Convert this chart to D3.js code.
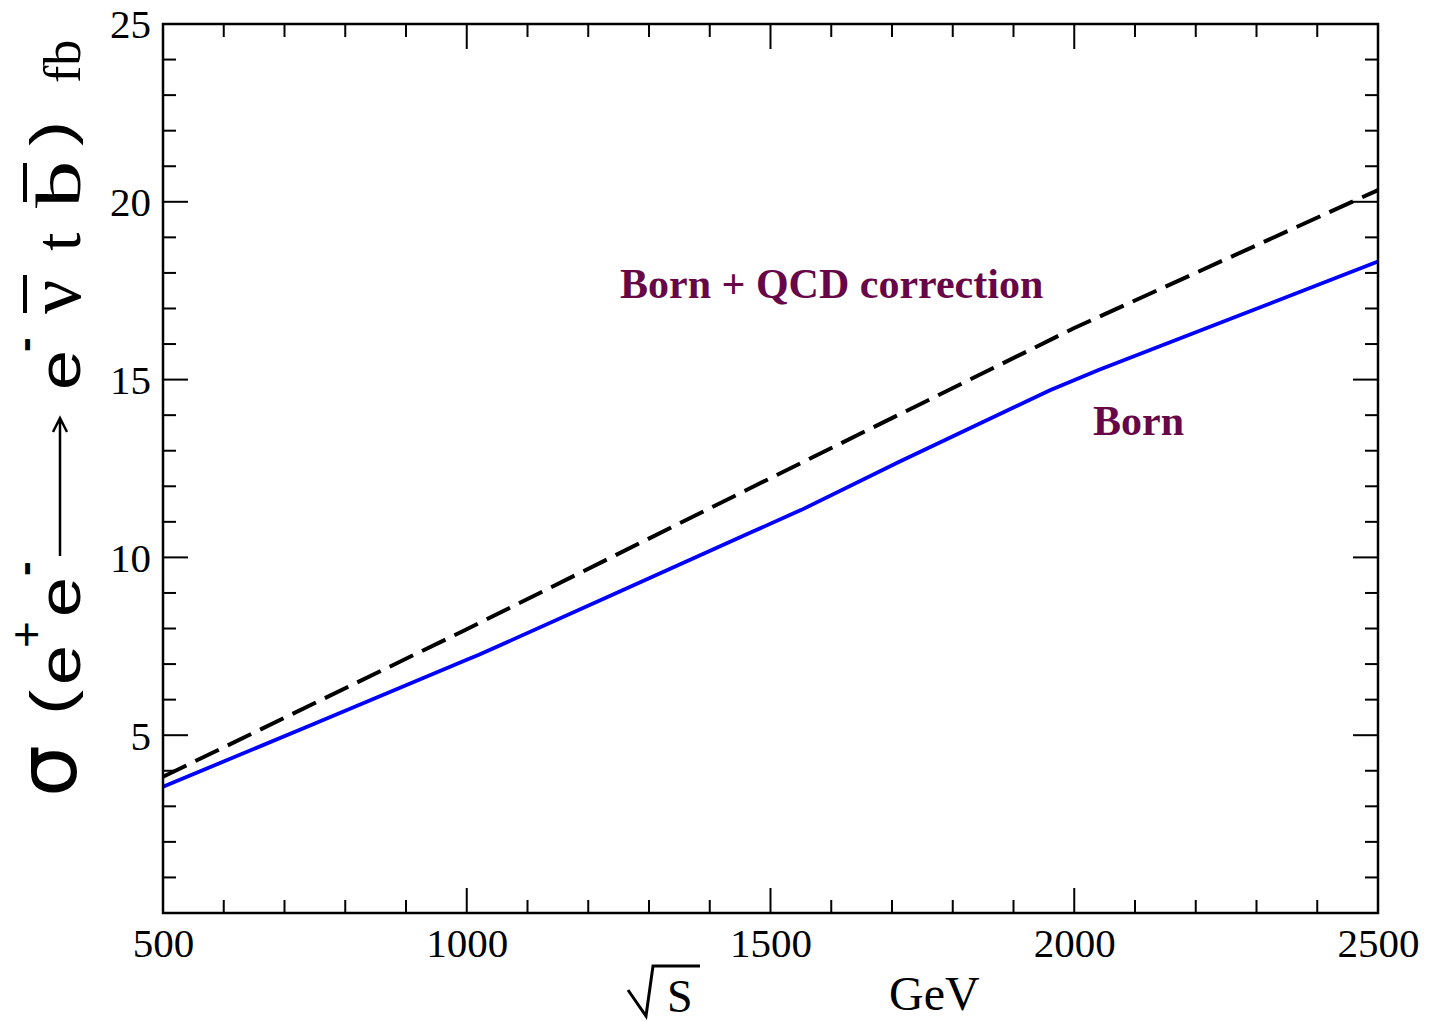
<!DOCTYPE html>
<html><head><meta charset="utf-8">
<script src="https://cdn.jsdelivr.net/npm/d3@7"></script>
<style>body{margin:0;background:#fff}</style>
</head><body>
<svg id="c" width="1429" height="1022"></svg>
<script>
// ---- data ----
const bornSqrtS = [500, 750, 1000, 1020, 1250, 1470, 1550, 1712, 1960, 2040, 2250, 2500];
const bornSigma = [3.55, 5.33, 7.12, 7.26, 9.03, 10.72, 11.33, 12.69, 14.7, 15.27, 16.66, 18.32];
const qcdSqrtS = [500, 1000, 1500, 2000, 2500];
const qcdSigma = [3.83, 7.98, 12.23, 16.45, 20.33];
const xTickValues = [500, 1000, 1500, 2000, 2500];
const yTickValues = [5, 10, 15, 20, 25];
const labelQCD = "Born + QCD correction";
const labelBorn = "Born";

const svg = d3.select("#c");
const L = 163, R = 1378, T = 24, B = 913;
const x = d3.scaleLinear().domain([500, 2500]).range([L, R]);
const y = d3.scaleLinear().domain([0, 25]).range([B, T]);
const serif = "'Liberation Serif','Times New Roman',serif";
const sans = "'Liberation Sans',Arial,sans-serif";

// minor/major ticks
const xMinor = d3.range(500, 2501, 100);
const yMinor = d3.range(1, 25, 1);
function tickAxes() {
  const g = svg.append("g").attr("stroke", "#000").attr("stroke-width", 2);
  xMinor.forEach(v => {
    const len = (v % 500 === 0) ? 25 : 13;
    g.append("line").attr("x1", x(v)).attr("x2", x(v)).attr("y1", B).attr("y2", B - len);
    g.append("line").attr("x1", x(v)).attr("x2", x(v)).attr("y1", T).attr("y2", T + len);
  });
  yMinor.forEach(v => {
    const len = (v % 5 === 0) ? 25 : 13;
    g.append("line").attr("x1", L).attr("x2", L + len).attr("y1", y(v)).attr("y2", y(v));
    g.append("line").attr("x1", R).attr("x2", R - len).attr("y1", y(v)).attr("y2", y(v));
  });
}
tickAxes();

// axes via d3 (labels only)
const xAxis = d3.axisBottom(x).tickValues(xTickValues).tickSize(0).tickPadding(0).tickFormat(d3.format("d"));
const gx = svg.append("g").attr("transform", `translate(0,${B})`).call(xAxis);
gx.select(".domain").remove();
gx.selectAll("text").attr("font-family", serif).attr("font-size", 41).attr("fill", "#000")
  .attr("dy", null).attr("y", 44);

const yAxis = d3.axisLeft(y).tickValues(yTickValues).tickSize(0).tickPadding(12).tickFormat(d3.format("d"));
const gy = svg.append("g").attr("transform", `translate(${L},0)`).call(yAxis);
gy.select(".domain").remove();
gy.selectAll("text").attr("font-family", serif).attr("font-size", 41).attr("fill", "#000")
  .attr("dy", "0.34em");

// curves
const line = d3.line().x(d => x(d[0])).y(d => y(d[1]));
svg.append("path").datum(qcdSqrtS.map((v, i) => [v, qcdSigma[i]]))
  .attr("d", line).attr("fill", "none").attr("stroke", "#000").attr("stroke-width", 4)
  .attr("stroke-dasharray", "26,10");
svg.append("path").datum(bornSqrtS.map((v, i) => [v, bornSigma[i]]))
  .attr("d", line).attr("fill", "none").attr("stroke", "#0000ff").attr("stroke-width", 3.8);

// frame
svg.append("rect").attr("x", L).attr("y", T).attr("width", R - L).attr("height", B - T)
  .attr("fill", "none").attr("stroke", "#000").attr("stroke-width", 2.5);

// curve labels
const maroon = "#670748";
svg.append("text").attr("x", 620).attr("y", 298).attr("font-family", serif).attr("font-weight", "bold")
  .attr("font-size", 42).attr("fill", maroon).text(labelQCD);
svg.append("text").attr("x", 1093).attr("y", 435).attr("font-family", serif).attr("font-weight", "bold")
  .attr("font-size", 42).attr("fill", maroon).text(labelBorn);

// x axis title: sqrt(S)   GeV
svg.append("path").attr("d", "M628,990 L646,1016 L653,966 L700,966")
  .attr("fill", "none").attr("stroke", "#000").attr("stroke-width", 3);
svg.append("text").attr("x", 667).attr("y", 1012).attr("font-family", serif).attr("font-size", 46).text("S");
svg.append("text").attr("x", 889).attr("y", 1010).attr("font-family", serif).attr("font-size", 48).text("GeV");

// y axis title, rotated pieces
function rt(sx, sy, str, fam, size, k, w) {
  return svg.append("text").attr("transform", `translate(${sx},${sy}) rotate(-90) scale(${k || 1},1)`)
    .attr("font-family", fam).attr("font-size", size).attr("font-weight", w || "normal")
    .attr("fill", "#000").text(str);
}
rt(76, 797, "σ", "'DejaVu Sans',sans-serif", 82);
rt(71, 715, "(", sans, 58, 1.3);
rt(80, 685, "e", sans, 60, 1.2);
rt(42, 648, "+", sans, 46);
rt(80, 617, "e", sans, 60, 1.2);
rt(38, 576, "-", sans, 40, 1.1, "bold");
// arrow
svg.append("path").attr("d", "M60,556 L60,418 M53,432 L60,418 L67,432")
  .attr("fill", "none").attr("stroke", "#000").attr("stroke-width", 2.5);
rt(80, 390, "e", sans, 60, 1.2);
rt(38, 352, "-", sans, 40, 1.1, "bold");
rt(80, 314, "ν", serif, 76);
svg.append("line").attr("x1", 25).attr("x2", 25).attr("y1", 275).attr("y2", 313).attr("stroke", "#000").attr("stroke-width", 4);
rt(80, 251, "t", serif, 66);
rt(80, 208, "b", serif, 63, 1.5);
svg.append("line").attr("x1", 25).attr("x2", 25).attr("y1", 163).attr("y2", 202).attr("stroke", "#000").attr("stroke-width", 4);
rt(71, 146, ")", sans, 58, 1.3);
rt(80, 83, "fb", serif, 52);
</script>
</body></html>
